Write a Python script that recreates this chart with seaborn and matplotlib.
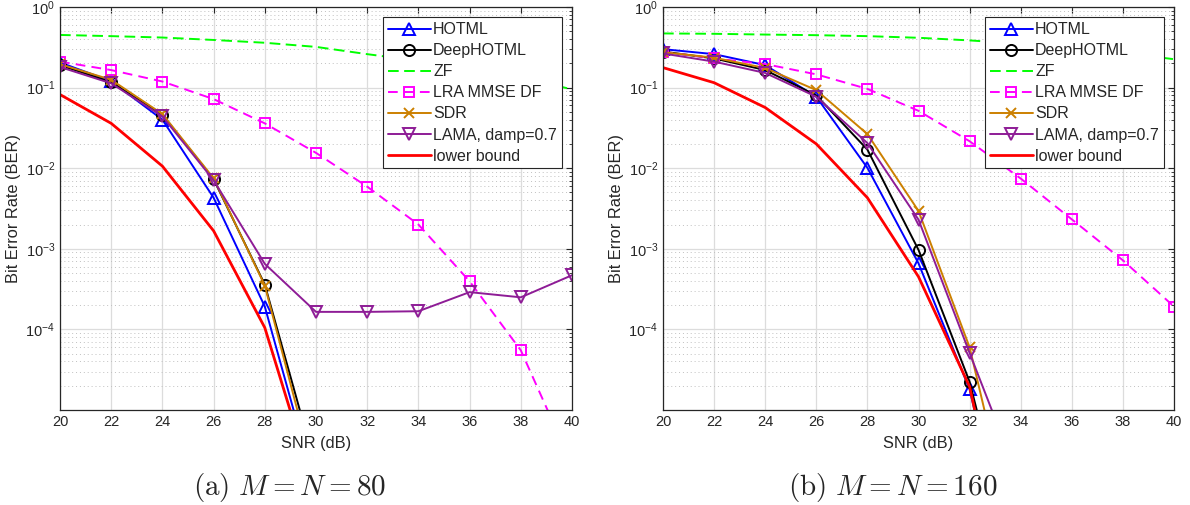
import numpy as np
import pandas as pd
import matplotlib
matplotlib.use("Agg")
import matplotlib.pyplot as plt
import matplotlib.ticker as mticker
import seaborn as sns

# SNR grid shared by both panels (dB)
snr = [20, 22, 24, 26, 28, 30, 32, 34, 36, 38, 40]
nan = np.nan

# Panel (a): M = N = 80
a_hotml = [0.205, 0.12, 0.040, 0.0043, 1.92e-4, 1.0e-6, nan, nan, nan, nan, nan]
a_deephotml = [0.19, 0.117, 0.046, 0.0073, 3.6e-4, 1.9e-6, nan, nan, nan, nan, nan]
a_zf = [0.45, 0.435, 0.418, 0.39, 0.36, 0.32, 0.26, 0.215, 0.175, 0.135, 0.095]
a_lra = [0.21, 0.165, 0.119, 0.072, 0.036, 0.0155, 0.0059, 0.0020, 3.95e-4, 5.5e-5, 2.1e-6]
a_sdr = [0.195, 0.125, 0.047, 0.0075, 3.5e-4, 1.3e-6, nan, nan, nan, nan, nan]
a_lama = [0.18, 0.113, 0.044, 0.0071, 6.5e-4, 1.65e-4, 1.65e-4, 1.68e-4, 2.9e-4, 2.5e-4, 4.7e-4]
a_bound = [0.082, 0.036, 0.0106, 0.00167, 1.05e-4, 9e-7, nan, nan, nan, nan, nan]

# Panel (b): M = N = 160
b_hotml = [0.30, 0.26, 0.19, 0.077, 0.0101, 6.6e-4, 1.8e-5, 3.7e-8, nan, nan, nan]
b_deephotml = [0.28, 0.23, 0.165, 0.080, 0.017, 9.7e-4, 2.24e-5, 7e-8, nan, nan, nan]
b_zf = [0.47, 0.465, 0.455, 0.447, 0.435, 0.415, 0.385, 0.35, 0.31, 0.27, 0.225]
b_lra = [0.278, 0.23, 0.196, 0.146, 0.0964, 0.0515, 0.0216, 0.00745, 0.00232, 7.2e-4, 1.92e-4]
b_sdr = [0.275, 0.235, 0.175, 0.093, 0.0265, 2.95e-3, 6.0e-5, 1.25e-7, nan, nan, nan]
b_lama = [0.265, 0.21, 0.152, 0.077, 0.0205, 2.3e-3, 5.1e-5, 1.2e-6, nan, nan, nan]
b_bound = [0.177, 0.115, 0.0566, 0.020, 0.0043, 4.5e-4, 1.95e-5, 2.5e-8, nan, nan, nan]

labels = ["HOTML", "DeepHOTML", "ZF", "LRA MMSE DF", "SDR", "LAMA, damp=0.7", "lower bound"]
xticks = [20, 22, 24, 26, 28, 30, 32, 34, 36, 38, 40]
yticks = [1e-4, 1e-3, 1e-2, 1e-1, 1e0]
captions = [r"$\mathrm{(a)}\ M=N=80$", r"$\mathrm{(b)}\ M=N=160$"]

styles = {
    "HOTML": dict(color="#0000FF", marker="^", linestyle="-", lw=1.4, ms=9),
    "DeepHOTML": dict(color="#000000", marker="o", linestyle="-", lw=1.4, ms=8),
    "ZF": dict(color="#00FF00", marker=None, linestyle=(0, (5.5, 2.8)), lw=1.4, ms=0),
    "LRA MMSE DF": dict(color="#FF00FF", marker="s", linestyle=(0, (5, 3.2)), lw=1.4, ms=7.5),
    "SDR": dict(color="#CC8000", marker="x", linestyle="-", lw=1.4, ms=7),
    "LAMA, damp=0.7": dict(color="#8E1C96", marker="v", linestyle="-", lw=1.4, ms=9),
    "lower bound": dict(color="#FF0000", marker=None, linestyle="-", lw=2.0, ms=0),
}

sns.set_style("white")
plt.rcParams["font.family"] = ["Liberation Sans", "DejaVu Sans"]
plt.rcParams["mathtext.fontset"] = "custom"
plt.rcParams["mathtext.rm"] = "Liberation Sans"
plt.rcParams["mathtext.it"] = "Liberation Sans:italic"
plt.rcParams["mathtext.bf"] = "Liberation Sans:bold"

fig = plt.figure(figsize=(11.9, 5.05), dpi=100)
axes = [fig.add_axes([60 / 1190, 95 / 505, 512 / 1190, 403 / 505]),
        fig.add_axes([663 / 1190, 95 / 505, 511 / 1190, 403 / 505])]

panels = [
    [a_hotml, a_deephotml, a_zf, a_lra, a_sdr, a_lama, a_bound],
    [b_hotml, b_deephotml, b_zf, b_lra, b_sdr, b_lama, b_bound],
]

for ax, series, cap in zip(axes, panels, captions):
    ax.set_yscale("log")
    for lab, vals in zip(labels, series):
        st = styles[lab]
        df = pd.DataFrame({"snr": snr, "ber": vals}).dropna()
        kw = dict(color=st["color"], linestyle=st["linestyle"], linewidth=st["lw"])
        if st["marker"]:
            kw.update(marker=st["marker"], markersize=st["ms"], markerfacecolor="none",
                      markeredgecolor=st["color"], markeredgewidth=1.4)
        sns.lineplot(data=df, x="snr", y="ber", ax=ax, label=lab, sort=False,
                     estimator=None, **kw)
    ax.set_xlim(20, 40)
    ax.set_ylim(1e-5, 1)
    ax.set_xticks(xticks)
    ax.set_yticks(yticks)
    ax.yaxis.set_major_formatter(mticker.LogFormatterMathtext())
    ax.yaxis.set_minor_locator(mticker.LogLocator(base=10, subs=np.arange(2, 10), numticks=20))
    ax.yaxis.set_minor_formatter(mticker.NullFormatter())
    ax.grid(True, which="major", color="#dcdcdc", linewidth=0.9, linestyle="-")
    ax.grid(True, which="minor", axis="y", color="#c0c0c0", linewidth=0.7, linestyle=(0, (1, 3)))
    ax.set_axisbelow(True)
    ax.tick_params(which="both", direction="in", top=True, right=True, colors="#262626",
                   labelsize=10.5)
    ax.tick_params(which="major", length=4, width=0.8)
    ax.tick_params(which="minor", length=2, width=0.6)
    for sp in ax.spines.values():
        sp.set_color("#262626")
        sp.set_linewidth(0.9)
    ax.set_xlabel("SNR (dB)", fontsize=11.8, color="#262626", labelpad=5)
    ax.set_ylabel("Bit Error Rate (BER)", fontsize=11.8, color="#262626", labelpad=3)
    leg = ax.legend(loc="upper right", fontsize=11.5, frameon=True, fancybox=False,
                    framealpha=1, edgecolor="#262626", borderpad=0.3, labelspacing=0.38,
                    handlelength=2.7, handletextpad=0.15, borderaxespad=0.65)
    leg.get_frame().set_linewidth(0.8)
    bb = ax.get_position()
    fig.text(bb.x0 + bb.width / 2 - 0.022, 18 / 505, cap, ha="center", va="center",
             fontsize=21, math_fontfamily="cm")

fig.savefig("out.png", dpi=100)
